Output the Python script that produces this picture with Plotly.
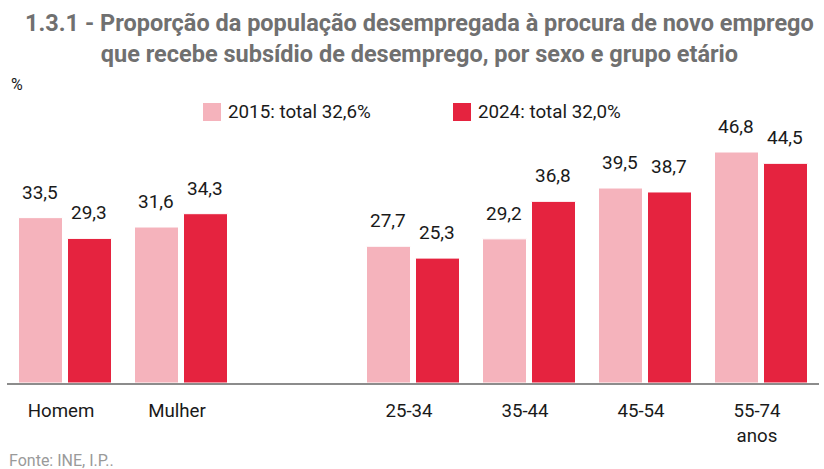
import plotly.graph_objects as go

categories = ["Homem", "Mulher", " ", "25-34", "35-44", "45-54", "55-74<br>anos"]
values_2015 = [33.5, 31.6, None, 27.7, 29.2, 39.5, 46.8]
values_2024 = [29.3, 34.3, None, 25.3, 36.8, 38.7, 44.5]
series_names = ["2015: total 32,6%", "2024: total 32,0%"]
colors = ["#F5B3BC", "#E5233F"]

FONT = "Roboto"
fig = go.Figure()
for name, vals, col in zip(series_names, [values_2015, values_2024], colors):
    fig.add_bar(x=categories, y=vals, name=name, marker=dict(color=col, line=dict(color="white", width=1)),
                showlegend=False, hoverinfo="skip")

def fmt(v):
    return f"{v:.1f}".replace(".", ",")

W, H = 824, 469
L, R, T, B = 7, 5, 100, 86
pw, ph = W - L - R, H - T - B

def px(xp):
    return (xp - L) / pw

def py(yp):
    return (H - B - yp) / ph

annotations = []
for vals, shift in [(values_2015, -24.5), (values_2024, 24.5)]:
    for c, v in zip(categories, vals):
        if v is None:
            continue
        annotations.append(dict(x=c, y=v, xref="x", yref="y", text=fmt(v), showarrow=False,
                                xshift=shift - 1, yshift=12, yanchor="bottom",
                                font=dict(family=FONT, size=19, color="#1a1a1a")))

annotations.append(dict(x=px(419), y=py(38), xref="paper", yref="paper", showarrow=False,
                        text="<b>1.3.1 - Proporção da população desempregada à procura de novo emprego<br>que recebe subsídio de desemprego, por sexo e grupo etário</b>",
                        font=dict(family=FONT, size=23.5, color="#707070"), xanchor="center", yanchor="middle"))
annotations.append(dict(x=px(9), y=py(84), xref="paper", yref="paper", showarrow=False, text="%",
                        font=dict(family=FONT, size=16, color="#1a1a1a"), xanchor="left", yanchor="middle"))
annotations.append(dict(x=px(7), y=py(460), xref="paper", yref="paper", showarrow=False, text="Fonte: INE, I.P..",
                        font=dict(family=FONT, size=16, color="#9a9a9a"), xanchor="left", yanchor="middle"))

shapes = []
for name, col, x0 in zip(series_names, colors, [203, 453]):
    shapes.append(dict(type="rect", xref="paper", yref="paper", x0=px(x0), x1=px(x0 + 18),
                       y0=py(121), y1=py(103), fillcolor=col, line=dict(width=0)))
    annotations.append(dict(x=px(x0 + 23), y=py(112), xref="paper", yref="paper", showarrow=False, text=name,
                            font=dict(family=FONT, size=18.8, color="#1a1a1a"), xanchor="left", yanchor="middle"))

fig.update_layout(
    width=W, height=H,
    margin=dict(l=L, r=R, t=T, b=B),
    paper_bgcolor="white", plot_bgcolor="white",
    barmode="group", bargap=0.155, bargroupgap=0.102,
    annotations=annotations, shapes=shapes,
    showlegend=False,
)
fig.update_xaxes(showline=True, linecolor="#8c8c8c", linewidth=1.5, showgrid=False, ticks="",
                 tickfont=dict(family=FONT, size=18.7, color="#1a1a1a"), ticklabelstandoff=10,
                 ticklabelshift=-4)
fig.update_yaxes(range=[0, ph / 4.936], visible=False, showgrid=False)

fig.write_html("out.html", config={"displayModeBar": False},
               post_script="document.body.style.margin='0px';")
